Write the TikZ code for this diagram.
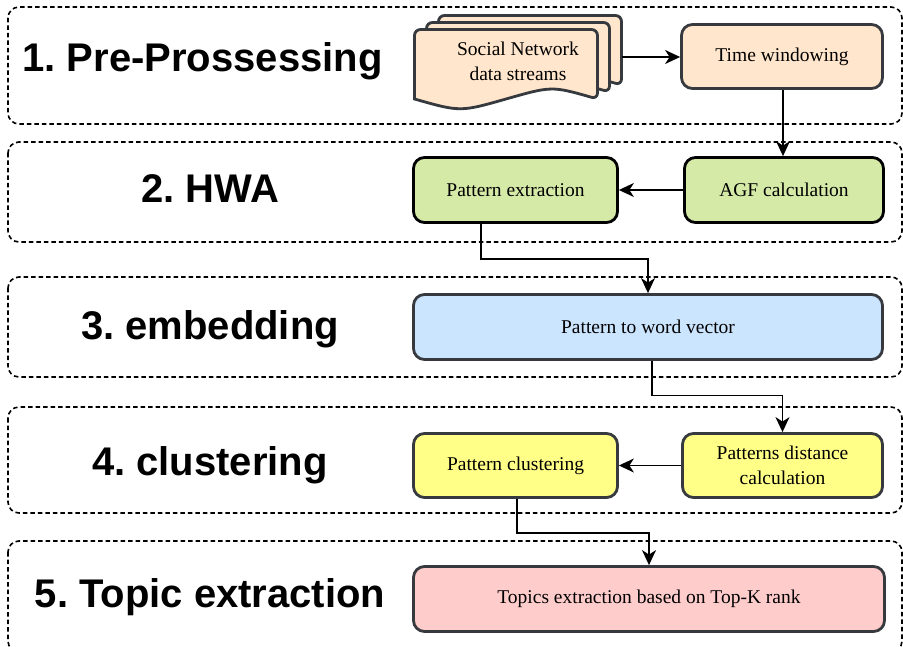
\documentclass[tikz,border=0pt]{standalone}
\usepackage{fontspec}
\setmainfont{Liberation Serif}
\newfontfamily\titlefont{Liberation Sans}
\usetikzlibrary{arrows.meta,calc}
\definecolor{peach}{HTML}{FFE6CC}
\definecolor{gfill}{HTML}{D6EAA8}
\definecolor{bfill}{HTML}{CCE5FF}
\definecolor{yfill}{HTML}{FFFF88}
\definecolor{rfill}{HTML}{FFCCCC}
\definecolor{edge}{HTML}{36393D}
\frenchspacing
\begin{document}
\begin{tikzpicture}[x=1pt,y=-1pt,
  grp/.style={draw=black, dash pattern=on 4.5pt off 3pt, line width=1.6pt, rounded corners=11pt},
  title/.style={font=\titlefont\bfseries\fontsize{40}{44}\selectfont, anchor=base, inner sep=0pt},
  proc/.style={draw=edge, line width=2.8pt, rounded corners=11pt, font=\fontsize{19.5}{25}\selectfont, align=center, inner sep=2pt},
  arr/.style={draw=black, line width=1.5pt, -{Stealth[length=15pt,width=14pt,inset=4.5pt]}},
  doc/.style={draw=edge, fill=peach, line width=2.8pt, rounded corners=6pt}
]
\useasboundingbox (0,0) rectangle (903,647);
% groups
\draw[grp] (8,7) rectangle (902,124);
\draw[grp] (8,142) rectangle (902,242);
\draw[grp] (8,277) rectangle (902,377);
\draw[grp] (8,407) rectangle (902,513);
\draw[grp] (8,541) rectangle (902,652);
% titles
\node[title] (t1) at (202.5,72) {1. Pre-Prossessing};
\node[title] (t2) at (210,203) {2. HWA};
\node[title] (t3) at (210,340) {3. embedding};
\node[title] (t4) at (210,475) {4. clustering};
\node[title] (t5) at (210,607) {5. Topic extraction};
% document stack
\foreach \dx/\dy in {24/-14,12/-7,0/0}{
  \begin{scope}[shift={(\dx,\dy)}]
    \path[doc] (414.5,99) -- (414.5,29.5) -- (597.5,29.5) -- (597.5,99)
      [sharp corners] .. controls (551.75,86) .. (506,99) .. controls (460.25,112) .. (414.5,99) -- cycle;
  \end{scope}
}
\node[font=\fontsize{19.5}{25}\selectfont, align=center] (docs) at (518,61) {Social Network\\data streams};
\coordinate (docR) at (622,57);
% process boxes
\node[proc, fill=peach, minimum width=201pt, minimum height=64pt] (tw) at (782,56.5) {Time windowing};
\node[proc, draw=black, fill=gfill, minimum width=199pt, minimum height=65pt] (agf) at (784,190) {AGF calculation};
\node[proc, draw=black, fill=gfill, minimum width=204pt, minimum height=65pt] (pe) at (515.5,190) {Pattern extraction};
\node[proc, fill=bfill, minimum width=469pt, minimum height=65pt] (pwv) at (648,327) {Pattern to word vector};
\node[proc, fill=yfill, minimum width=200pt, minimum height=64pt] (pdc) at (782.5,465.5) {Patterns distance\\calculation};
\node[proc, fill=yfill, minimum width=204pt, minimum height=64pt] (pc) at (515.5,465.5) {Pattern clustering};
\node[proc, fill=rfill, minimum width=471pt, minimum height=65pt] (tp) at (649,599) {Topics extraction based on Top-K rank};
% connectors
\draw[arr] (docR) -- (tw.west |- docR);
\draw[arr] ([xshift=1pt]tw.south) -- ([xshift=1pt]tw.south |- agf.north);
\draw[arr] (agf.west) -- (pe.east);
\draw[arr] ([xshift=-34.5pt]pe.south) -- ++(0,35) -| (pwv.north);
\draw[arr] ([xshift=4pt]pwv.south) -- ++(0,34.5) -| (pdc.north);
\draw[arr] (pdc.west) -- (pc.east);
\draw[arr] ([xshift=1.5pt]pc.south) -- ++(0,34) -| (tp.north);
\end{tikzpicture}
\end{document}
